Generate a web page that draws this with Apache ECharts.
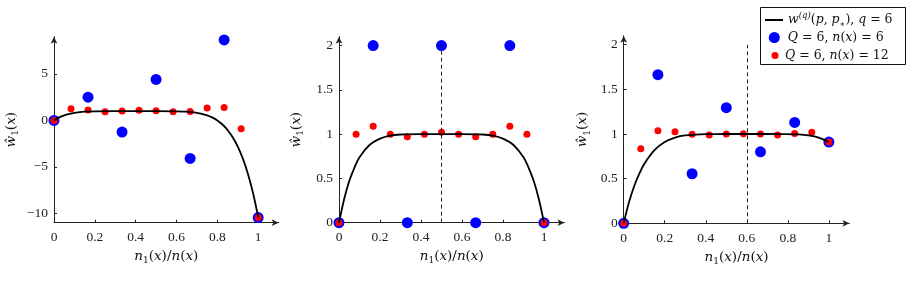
<!DOCTYPE html>
<html>
<head>
<meta charset="utf-8">
<script src="https://cdn.jsdelivr.net/npm/echarts@6/dist/echarts.min.js"></script>
<style>
  html, body { margin: 0; background: #fff; }
  #main { width: 910px; height: 304px; }
</style>
</head>
<body>
<div id="main"></div>
<script>
// x positions of the estimates
var xCoarse = [0, 0.1667, 0.3333, 0.5, 0.6667, 0.8333, 1];
var xFine = [0, 0.0833, 0.1667, 0.25, 0.3333, 0.4167, 0.5, 0.5833, 0.6667, 0.75, 0.8333, 0.9167, 1];

// panel 1 (p* = 0.4)
var curve1X = [0, 0.025, 0.05, 0.075, 0.1, 0.15, 0.2, 0.3, 0.4, 0.5, 0.6, 0.65, 0.7, 0.75, 0.775, 0.8, 0.825, 0.85, 0.875, 0.9, 0.925, 0.95, 0.975, 1];
var curve1Y = [0, 0.32, 0.55, 0.71, 0.82, 0.94, 0.98, 1.0, 1.0, 1.0, 0.98, 0.94, 0.82, 0.55, 0.32, 0.0, -0.44, -1.03, -1.81, -2.81, -4.11, -5.76, -7.84, -10.4];
var blue1 = [0, 2.5, -1.26, 4.41, -4.09, 8.65, -10.45];
var red1 = [0, 1.26, 1.11, 0.93, 1.0, 1.1, 1.03, 0.93, 0.97, 1.32, 1.4, -0.9, -10.45];

// panel 2 (p* = 0.5)
var curve2X = [0, 0.025, 0.05, 0.075, 0.1, 0.15, 0.2, 0.25, 0.3, 0.4, 0.5, 0.6, 0.7, 0.75, 0.8, 0.85, 0.9, 0.925, 0.95, 0.975, 1];
var curve2Y = [0, 0.265, 0.47, 0.62, 0.74, 0.88, 0.95, 0.984, 0.996, 1.0, 1.0, 1.0, 0.996, 0.984, 0.95, 0.88, 0.74, 0.62, 0.47, 0.265, 0];
var blue2 = [0, 2, 0, 2, 0, 2, 0];
var red2 = [0, 1.0, 1.09, 1.0, 0.97, 1.0, 1.02, 1.0, 0.97, 1.0, 1.09, 1.0, 0];

// panel 3 (p* = 0.6)
var curve3X = [0, 0.025, 0.05, 0.075, 0.1, 0.15, 0.2, 0.25, 0.3, 0.4, 0.5, 0.6, 0.7, 0.8, 0.85, 0.9, 0.95, 1];
var curve3Y = [0, 0.23, 0.41, 0.55, 0.665, 0.82, 0.91, 0.96, 0.984, 0.999, 1.0, 1.0, 1.0, 0.999, 0.995, 0.984, 0.96, 0.91];
var blue3 = [0, 1.665, 0.555, 1.295, 0.8, 1.13, 0.91];
var red3 = [0, 0.835, 1.037, 1.026, 0.996, 0.99, 1.0, 1.004, 1.0, 0.99, 1.005, 1.02, 0.91];

var pStar = [0.4, 0.5, 0.6];
var xTicks = [0, 0.2, 0.4, 0.6, 0.8, 1];
var yTicks1 = [-10, -5, 0, 5];
var yTicks23 = [0, 0.5, 1, 1.5, 2];

function pairs(xs, ys) {
  return xs.map(function (x, i) { return [x, ys[i]]; });
}

var panels = [
  { curve: pairs(curve1X, curve1Y), blue: pairs(xCoarse, blue1), red: pairs(xFine, red1), yMin: -11, yMax: 9, dashTop: 9.1, yTicks: yTicks1 },
  { curve: pairs(curve2X, curve2Y), blue: pairs(xCoarse, blue2), red: pairs(xFine, red2), yMin: 0, yMax: 2.1, dashTop: 2, yTicks: yTicks23 },
  { curve: pairs(curve3X, curve3Y), blue: pairs(xCoarse, blue3), red: pairs(xFine, red3), yMin: 0, yMax: 2.1, dashTop: 2, yTicks: yTicks23 }
];

var grids = [
  { left: 54, top: 36.7, width: 224.6, height: 186 },
  { left: 339, top: 36.7, width: 225.5, height: 186 },
  { left: 623.7, top: 35.8, width: 225.7, height: 187.5 }
];
var yNameGaps = [34, 34, 32];

var serif = 'DejaVu Serif';
var mathRich = {
  i: { fontFamily: serif, fontStyle: 'italic', fontSize: 12.5, color: '#111', lineHeight: 18 },
  r: { fontFamily: serif, fontSize: 12.5, color: '#111', lineHeight: 18 },
  sub: { fontFamily: serif, fontSize: 8.5, color: '#111', lineHeight: 9, verticalAlign: 'bottom' },
  sup: { fontFamily: serif, fontStyle: 'italic', fontSize: 8.5, color: '#111', lineHeight: 9, verticalAlign: 'top' }
};
var nameRich = {
  i: Object.assign({}, mathRich.i, { fontSize: 13.5 }),
  r: Object.assign({}, mathRich.r, { fontSize: 13.5 }),
  sub: Object.assign({}, mathRich.sub, { fontSize: 9 }),
  sup: mathRich.sup
};

function fmtTick(v) {
  return v < 0 ? '\u2212' + Math.abs(v) : String(v);
}

var axisLineStyle = { color: '#222', width: 1 };

var option = {
  animation: false,
  backgroundColor: '#fff',
  grid: grids.map(function (g) { return Object.assign({ outerBoundsMode: 'none' }, g); }),
  xAxis: panels.map(function (p, k) {
    return {
      type: 'value', gridIndex: k, min: 0, max: 1.1,
      name: '{i|n}{sub|1}{r|(}{i|x}{r|)/}{i|n}{r|(}{i|x}{r|)}',
      nameLocation: 'middle', nameGap: 23,
      nameTextStyle: { rich: nameRich },
      axisLine: { onZero: false, lineStyle: axisLineStyle, symbol: ['none', 'arrow'], symbolSize: [5, 7] },
      axisTick: { inside: true, length: 3, lineStyle: axisLineStyle, customValues: xTicks },
      axisLabel: { customValues: xTicks, formatter: fmtTick, margin: 8, fontFamily: 'Liberation Serif', fontSize: 13.5, color: '#222' },
      splitLine: { show: false }
    };
  }),
  yAxis: panels.map(function (p, k) {
    return {
      type: 'value', gridIndex: k, min: p.yMin, max: p.yMax,
      name: '{i|\u0175}{sub|1}{r|(}{i|x}{r|)}',
      nameLocation: 'middle', nameGap: yNameGaps[k], nameRotate: 90,
      nameTextStyle: { rich: nameRich },
      axisLine: { onZero: false, lineStyle: axisLineStyle, symbol: ['none', 'arrow'], symbolSize: [5, 7] },
      axisTick: { inside: true, length: 3, lineStyle: axisLineStyle, customValues: p.yTicks },
      axisLabel: { customValues: p.yTicks, formatter: fmtTick, margin: 6, fontFamily: 'Liberation Serif', fontSize: 13.5, color: '#222' },
      splitLine: { show: false }
    };
  }),
  legend: [
    {
      data: [{ name: 'curve', icon: 'rect' }], left: 765, top: 11, padding: 0, itemWidth: 18, itemHeight: 2,
      itemStyle: { color: '#000' },
      formatter: function () { return '{i|w}{sup|(q)}{r|(}{i|p}{r|, }{i|p}{sub|\u2217}{r|), }{i|q}{r| = 6}'; },
      textStyle: { rich: mathRich }
    },
    {
      data: ['coarse'], left: 768.8, top: 31, padding: 0, itemWidth: 17, itemHeight: 11,
      formatter: function () { return '{i|Q}{r| = 6, }{i|n}{r|(}{i|x}{r|) = 6}'; },
      textStyle: { rich: mathRich }
    },
    {
      data: ['fine'], left: 771.5, top: 49, padding: 0, itemWidth: 10, itemHeight: 7,
      formatter: function () { return '{i|Q}{r| = 6, }{i|n}{r|(}{i|x}{r|) = 12}'; },
      textStyle: { rich: mathRich }
    }
  ],
  graphic: [{
    type: 'rect', z: 0,
    shape: { x: 760.5, y: 7.5, width: 145, height: 57 },
    style: { fill: '#fff', stroke: '#111', lineWidth: 1 }
  }],
  series: []
};

panels.forEach(function (p, k) {
  option.series.push({
    name: 'curve', type: 'line', xAxisIndex: k, yAxisIndex: k,
    data: p.curve, symbol: 'none', showSymbol: false, smooth: 0.35,
    lineStyle: { color: '#000', width: 1.8 }, itemStyle: { color: '#000' },
    markLine: {
      silent: true, symbol: ['none', 'none'], label: { show: false },
      lineStyle: { type: [4, 3], color: '#222', width: 1 },
      data: [[{ coord: [pStar[k], p.yMin] }, { coord: [pStar[k], p.dashTop] }]]
    }
  });
  option.series.push({
    name: 'coarse', type: 'scatter', xAxisIndex: k, yAxisIndex: k,
    data: p.blue, symbolSize: 11, itemStyle: { color: '#0000ff', opacity: 1 }
  });
  option.series.push({
    name: 'fine', type: 'scatter', xAxisIndex: k, yAxisIndex: k,
    data: p.red, symbolSize: 7, itemStyle: { color: '#ff0000', opacity: 1 }
  });
});

var chart = echarts.init(document.getElementById('main'));
chart.setOption(option);
</script>
</body>
</html>
